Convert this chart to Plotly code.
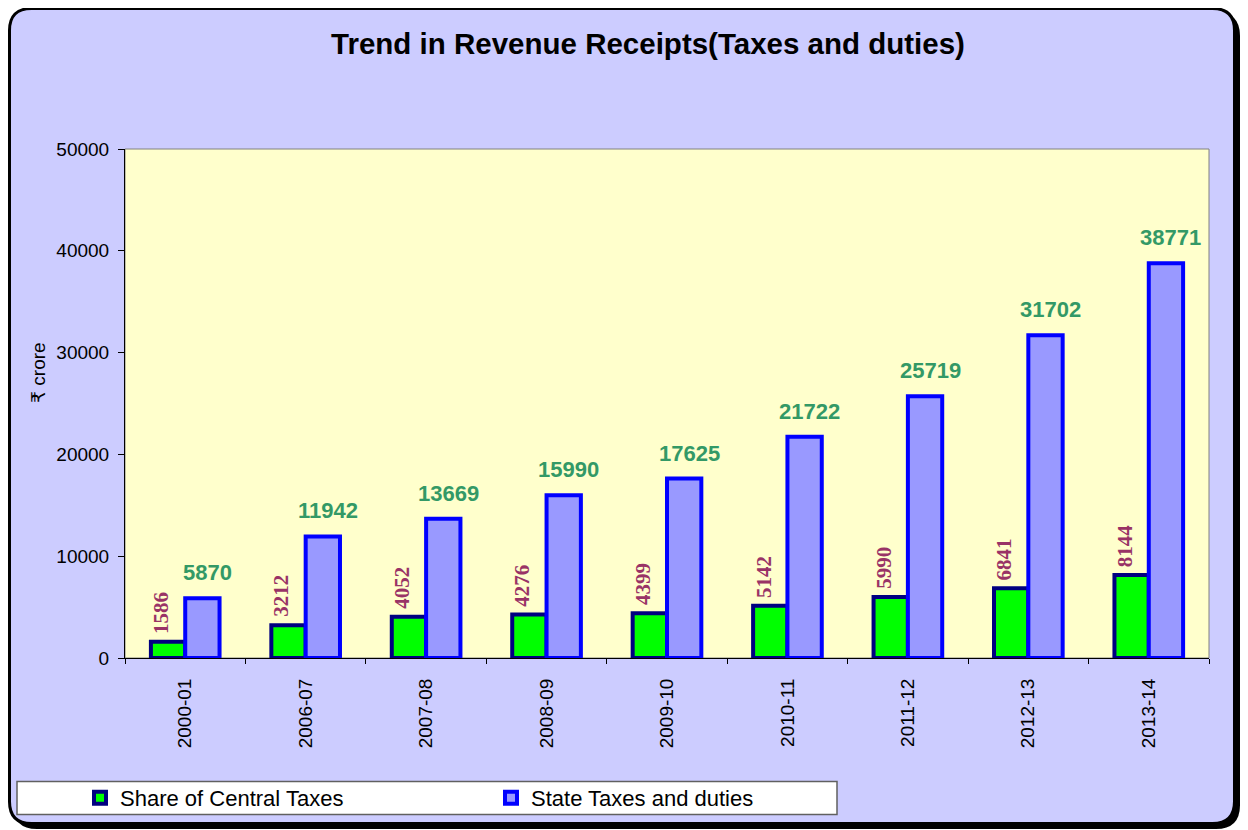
import plotly.graph_objects as go

# ---------------- data ----------------
years = ["2000-01", "2006-07", "2007-08", "2008-09", "2009-10",
         "2010-11", "2011-12", "2012-13", "2013-14"]
central_taxes = [1586, 3212, 4052, 4276, 4399, 5142, 5990, 6841, 8144]
state_taxes = [5870, 11942, 13669, 15990, 17625, 21722, 25719, 31702, 38771]

title_text = "Trend in Revenue Receipts(Taxes and duties)"
y_title = "₹ crore"
y_ticks = [0, 10000, 20000, 30000, 40000, 50000]

# ---------------- layout constants ----------------
W, H = 1248, 830
OFF = 8  # page body margin in the browser
PW, PH = 1084, 509
ML, MT = 125 - OFF, 149 - OFF
MR, MB = W - ML - PW, H - MT - PH
BARGAP = 0.43
SANS = "Liberation Sans, Arial, DejaVu Sans, sans-serif"
SERIF = "Liberation Serif, Times New Roman, serif"


def px(x, y):
    """screen pixel (as seen in the page) -> paper coordinates"""
    return (x - OFF - ML) / PW, (MT + PH - (y - OFF)) / PH


def rr_path(x0, y0, x1, y1, r):
    pts = [("M", [(x0 + r, y0)]), ("L", [(x1 - r, y0)]), ("Q", [(x1, y0), (x1, y0 + r)]),
           ("L", [(x1, y1 - r)]), ("Q", [(x1, y1), (x1 - r, y1)]), ("L", [(x0 + r, y1)]),
           ("Q", [(x0, y1), (x0, y1 - r)]), ("L", [(x0, y0 + r)]), ("Q", [(x0, y0), (x0 + r, y0)])]
    s = ""
    for cmd, ps in pts:
        s += cmd + " " + " ".join("%.5f,%.5f" % px(a, b) for a, b in ps) + " "
    return s + "Z"


def rect_paper(x0, y0, x1, y1):
    a = px(x0, y0)
    b = px(x1, y1)
    return dict(x0=a[0], y0=b[1], x1=b[0], y1=a[1])


fig = go.Figure()
fig.add_trace(go.Bar(
    x=years, y=central_taxes, name="Share of Central Taxes",
    marker=dict(color="#00FF00", line=dict(color="#000080", width=4)),
))
fig.add_trace(go.Bar(
    x=years, y=state_taxes, name="State Taxes and duties",
    marker=dict(color="#9999FF", line=dict(color="#0000FF", width=4)),
))

shapes = [
    # shadow of outer frame
    dict(type="path", xref="paper", yref="paper", layer="below",
         path=rr_path(13, 12, 1240, 829, 24), fillcolor="black", line=dict(width=0)),
    # outer frame
    dict(type="path", xref="paper", yref="paper", layer="below",
         path=rr_path(9.5, 8.5, 1234.5, 823.5, 22), fillcolor="#CCCCFF",
         line=dict(color="black", width=3)),
    # plot area
    dict(type="rect", xref="paper", yref="paper", layer="below",
         x0=0, y0=0, x1=1, y1=1, fillcolor="#FFFFCC", line=dict(color="#808080", width=1)),
    # legend box
    dict(type="rect", xref="paper", yref="paper", layer="below",
         fillcolor="white", line=dict(color="#606060", width=1.5),
         **rect_paper(17, 781.5, 837, 814.5)),
]

off = (1 - BARGAP) / 4
annotations = []
for i, (c, s) in enumerate(zip(central_taxes, state_taxes)):
    annotations.append(dict(
        x=i - off, y=c, xref="x", yref="y", text="<b>%d</b>" % c, showarrow=False,
        textangle=-90, yanchor="bottom", xanchor="center", yshift=6, xshift=-7,
        font=dict(family=SERIF, size=21, color="#993366"),
    ))
    annotations.append(dict(
        x=i + off, y=s, xref="x", yref="y", text="<b>%d</b>" % s, showarrow=False,
        yanchor="bottom", xanchor="center", yshift=11, xshift=5,
        font=dict(family=SANS, size=22, color="#339966"),
    ))

yt = px(38, 373)
annotations.append(dict(
    x=yt[0], y=yt[1], xref="paper", yref="paper", text=y_title, showarrow=False,
    textangle=-90, xanchor="center", yanchor="middle",
    font=dict(family=SANS, size=19, color="black"),
))

lg = px(80, 798)
fig.update_layout(
    width=W, height=H,
    margin=dict(l=ML, r=MR, t=MT, b=MB, pad=0),
    paper_bgcolor="white",
    plot_bgcolor="rgba(0,0,0,0)",
    barmode="group", bargap=BARGAP, bargroupgap=0,
    title=dict(text="<b>" + title_text + "</b>", x=(648 - OFF) / W, xanchor="center",
               xref="container", y=1 - (44 - OFF) / H, yref="container", yanchor="middle",
               font=dict(family=SANS, size=29.5, color="black")),
    xaxis=dict(type="category", categoryorder="array", categoryarray=years,
               tickson="boundaries", ticks="outside", ticklen=5, tickcolor="black",
               tickangle=-90, ticklabelstandoff=12, showline=True, linecolor="black",
               linewidth=1, showgrid=False,
               tickfont=dict(family=SANS, size=19, color="black")),
    yaxis=dict(range=[0, 50000], tickvals=y_ticks, tickformat="d", ticks="outside",
               ticklen=6, tickcolor="black", ticklabelstandoff=5, showline=True,
               linecolor="black", linewidth=1, showgrid=False, zeroline=False,
               tickfont=dict(family=SANS, size=19, color="black")),
    showlegend=True,
    legend=dict(orientation="h", x=lg[0], y=lg[1], xanchor="left", yanchor="middle",
                xref="paper", yref="paper", bgcolor="rgba(0,0,0,0)", borderwidth=0,
                entrywidth=366, entrywidthmode="pixels", traceorder="normal",
                font=dict(family=SANS, size=22, color="black")),
    shapes=shapes,
    annotations=annotations,
)

fig.write_html("out.html")
